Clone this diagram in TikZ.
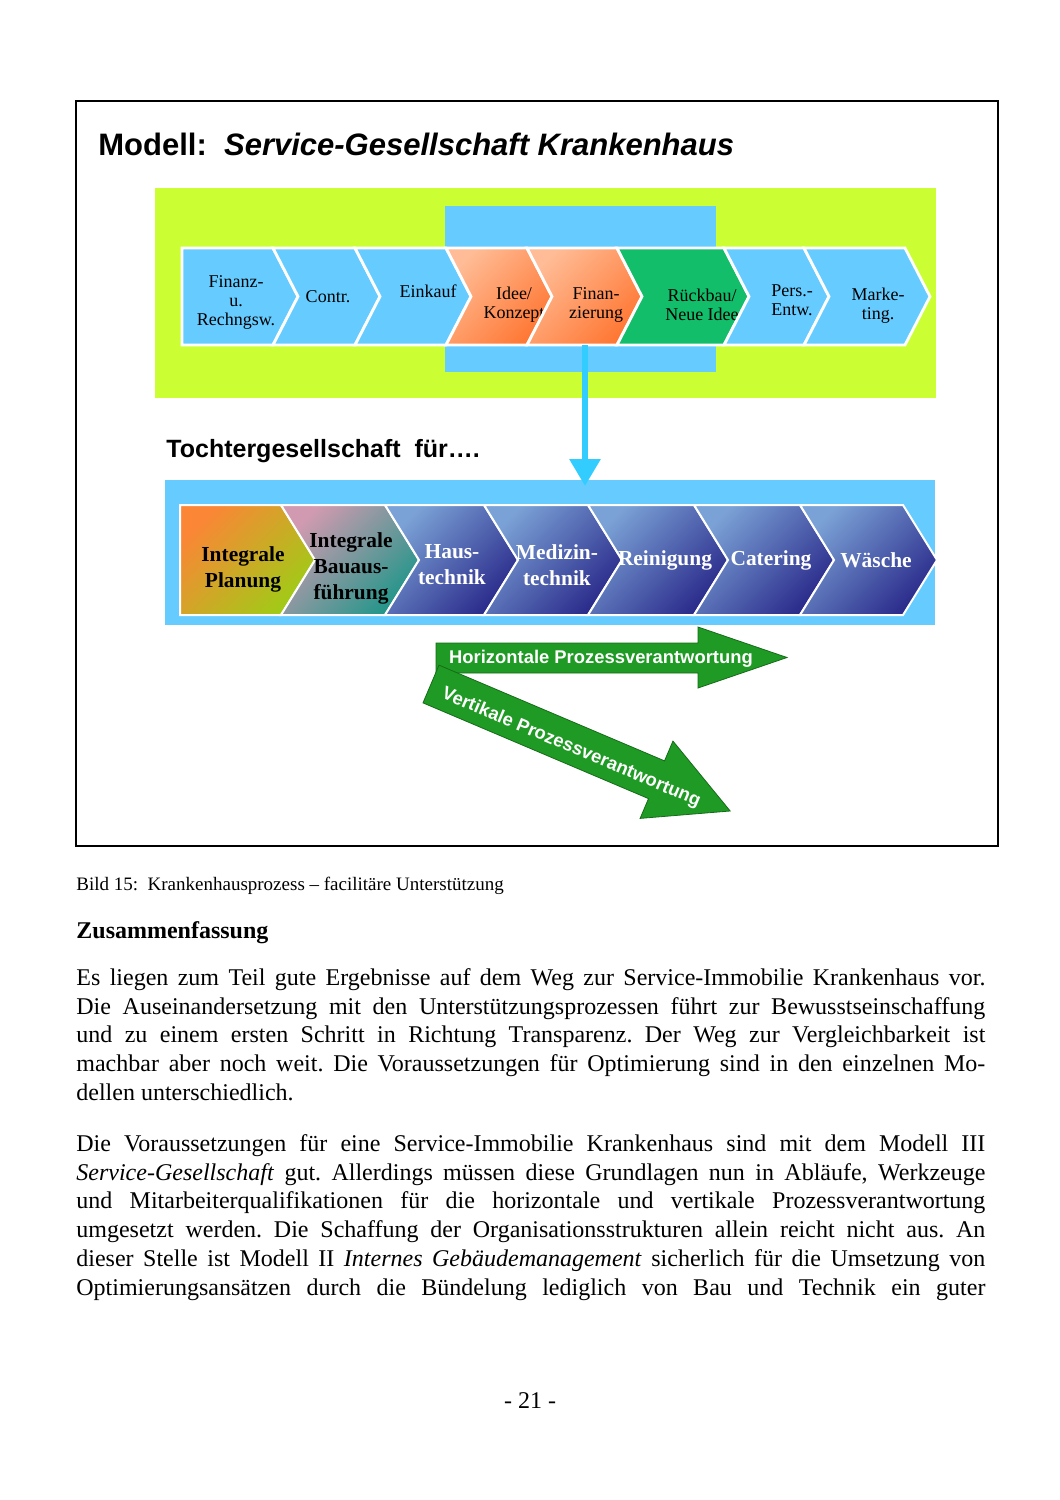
\documentclass[tikz,border=0pt]{standalone}
\usepackage{fontspec}
\setmainfont{Liberation Serif}
\setsansfont{Liberation Sans}
\usetikzlibrary{arrows.meta,positioning,calc}
\definecolor{khLime}{HTML}{CCFF33}
\definecolor{khSky}{HTML}{66CCFF}
\definecolor{khDrop}{HTML}{33CCFF}
\definecolor{khMint}{HTML}{12BE6A}
\definecolor{khPeach}{HTML}{FFBC96}
\definecolor{khOrange}{HTML}{FF7733}
\definecolor{khPlanA}{HTML}{FB8636}
\definecolor{khPlanB}{HTML}{9FCC16}
\definecolor{khBauA}{HTML}{D29AB0}
\definecolor{khBauB}{HTML}{22968A}
\definecolor{khSteel}{HTML}{7BA2D6}
\definecolor{khNavy}{HTML}{2A2A8A}
\definecolor{khGreen}{HTML}{1F9A24}
\frenchspacing

\begin{document}
\begin{tikzpicture}[x=0.5pt, y=-0.5pt,
  chev/.style={draw=white, line width=1.4pt, line join=miter},
  sky/.style={fill=khSky},
  peach/.style={top color=khPeach, bottom color=khOrange, shading angle=45},
  mint/.style={fill=khMint},
  plan/.style={top color=khPlanA, bottom color=khPlanB, shading angle=45},
  bau/.style={top color=khBauA, bottom color=khBauB, shading angle=45},
  navy/.style={top color=khSteel, bottom color=khNavy, shading angle=45},
  lbl/.style={align=center, inner sep=0pt, font=\fontsize{9}{9.5}\selectfont},
  lbltwo/.style={align=center, inner sep=0pt, font=\fontsize{10.7}{13}\selectfont\bfseries},
  head/.style={anchor=base west, inner sep=0pt, font=\sffamily\bfseries\fontsize{12.5}{14}\selectfont},
  body/.style={anchor=north west, inner sep=0pt, text width=454.5pt, align=justify,
    font=\fontsize{12}{14.4}\selectfont},
  grn/.style={fill=khGreen, draw=khGreen!70!black, line width=0.4pt},
  grntext/.style={inner sep=0pt, text=white, font=\sffamily\bfseries\fontsize{9.2}{10}\selectfont}]
\useasboundingbox (0,0) rectangle (1060,1500);
\fill[white] (0,0) rectangle (1060,1500);
\draw[line width=0.6pt] (76,101) rectangle (998,846);
\node[head, font=\sffamily\bfseries\fontsize{15.5}{18}\selectfont] (title) at (98,155)
  {Modell:\ \ \textit{Service-Gesellschaft Krankenhaus}};

% Mutterhaus: Prozesskette
\fill[khLime] (155,188) rectangle (936,398);
\fill[khSky] (445,206) rectangle (716,372);
\foreach \a/\b/\n/\s/\t/\lx/\ly [count=\i] in {
  182/273/0/sky/{Finanz-\\u.\\Rechngsw.}/236/302,
  273/355/25/sky/{Contr.}/328/297,
  355/446/25/sky/{Einkauf}/428/291,
  446/527/25/peach/{Idee/\\Konzept}/514/305,
  527/617/25/peach/{Finan-\\zierung}/596/305,
  617/724/25/mint/{Rückbau/\\Neue Idee}/702/305,
  724/804/25/sky/{Pers.-\\Entw.}/792/300,
  804/905/25/sky/{Marke-\\ting.}/878/306}{
  \path[chev,\s] (\a,248) -- (\b,248) -- ({\b+25},296.5) -- (\b,345) -- (\a,345)
    -- ({\a+\n},296.5) -- cycle;
  \node[lbl] (p\i) at (\lx,\ly) {\t};
}

\node[head] (tochter) at (166,457) {Tochtergesellschaft\ \ für….};

% Tochter: Leistungskette
\fill[khSky] (165,480) rectangle (935,625);
\foreach \a/\b/\n/\s/\c/\t/\lx/\ly [count=\i] in {
  180/281/0/plan/black/{Integrale\\Planung}/243/569,
  281/385/34/bau/black/{Integrale\\Bauaus-\\führung}/351/568,
  385/484/34/navy/white/{Haus-\\technik}/452/565,
  484/588/34/navy/white/{Medizin-\\technik}/557/565,
  588/694/34/navy/white/{Reinigung}/665/560,
  694/800/34/navy/white/{Catering}/771/560,
  800/903/34/navy/white/{Wäsche}/876/560}{
  \path[chev,line width=1pt,\s] (\a,505) -- (\b,505) -- ({\b+34},560) -- (\b,615) -- (\a,615)
    -- ({\a+\n},560) -- cycle;
  \node[lbltwo, text=\c] (t\i) at (\lx,\ly) {\t};
}

\coordinate (dropFrom) at (585,345);
\coordinate (dropTo) at (585,486);
\draw[khDrop, line width=3pt, -{Triangle[width=15pt, length=13.5pt]}] (dropFrom) -- (dropTo);

% Prozessverantwortung
\path[grn] (436,643) -- (698,643) -- (698,627) -- (787,657.5) -- (698,688) -- (698,673)
  -- (436,673) -- cycle;
\node[grntext] (horiz) at (601,659) {Horizontale Prozessverantwortung};
\begin{scope}[shift={(431,684)}, rotate=-23]
  \path[grn] (0,-20.5) -- (245,-20.5) -- (245,-42) -- (325,0) -- (245,42) -- (245,20.5)
    -- (0,20.5) -- cycle;
  \node[grntext, rotate=-23] (vert) at (154,4) {Vertikale Prozessverantwortung};
\end{scope}

% Seitentext
\node[anchor=base west, inner sep=0pt, font=\fontsize{9.5}{11}\selectfont] (caption) at (76,890)
  {Bild 15:\ \ Krankenhausprozess – facilitäre Unterstützung};
\node[anchor=base west, inner sep=0pt, font=\fontsize{12}{14}\selectfont\bfseries] (summary)
  at (76,938) {Zusammenfassung};
\node[body] (para1) at (76,964.8) {\tolerance=9999\strut Es liegen zum Teil gute Ergebnisse auf dem Weg zur Service-Immobilie Krankenhaus vor.\linebreak
  Die Auseinandersetzung mit den Unterstützungsprozessen führt zur Bewusstseinschaffung\linebreak
  und zu einem ersten Schritt in Richtung Transparenz. Der Weg zur Vergleichbarkeit ist\linebreak
  machbar aber noch weit. Die Voraussetzungen für Optimierung sind in den einzelnen Mo-\linebreak
  dellen unterschiedlich.};
\node[body] (para2) at (76,1130.8) {\tolerance=9999\strut Die Voraussetzungen für eine Service-Immobilie Krankenhaus sind mit dem Modell III\linebreak
  \textit{Service-Gesellschaft} gut. Allerdings müssen diese Grundlagen nun in Abläufe, Werkzeuge\linebreak
  und Mitarbeiterqualifikationen für die horizontale und vertikale Prozessverantwortung\linebreak
  umgesetzt werden. Die Schaffung der Organisationsstrukturen allein reicht nicht aus. An\linebreak
  dieser Stelle ist Modell II \textit{Internes Gebäudemanagement} sicherlich für die Umsetzung von\linebreak
  \makebox[\linewidth][s]{Optimierungsansätzen durch die Bündelung lediglich von Bau und Technik ein guter}};
\node[anchor=base, inner sep=0pt, font=\fontsize{12}{14}\selectfont] (pagenum) at (530,1408) {- 21 -};
\end{tikzpicture}
\end{document}
